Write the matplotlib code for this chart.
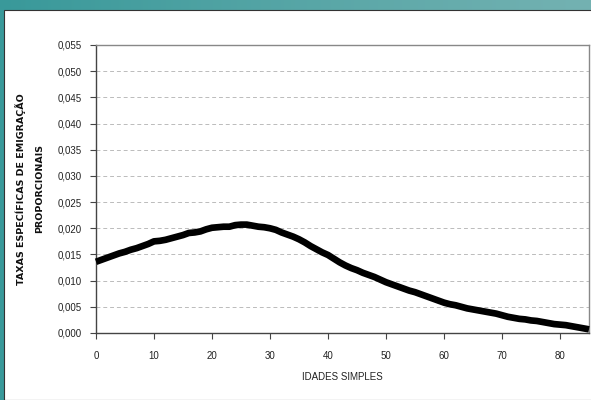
import matplotlib
matplotlib.use("Agg")
import matplotlib.pyplot as plt
import numpy as np
from matplotlib.patches import Rectangle
from matplotlib.colors import LinearSegmentedColormap

ages = list(range(0, 86))
rates = [0.0136, 0.0140, 0.0144, 0.0148, 0.0152, 0.0155, 0.0159, 0.0162, 0.0166, 0.0170,
         0.0175, 0.0176, 0.0178, 0.0181, 0.0184, 0.0187, 0.0191, 0.0192, 0.0194, 0.0198,
         0.0201, 0.0202, 0.0203, 0.0203, 0.0206, 0.0207, 0.0207, 0.0205, 0.0203, 0.0202,
         0.0200, 0.0197, 0.0192, 0.0188, 0.0184, 0.0179, 0.0173, 0.0166, 0.0160, 0.0154,
         0.0149, 0.0142, 0.0135, 0.0129, 0.0124, 0.0120, 0.0115, 0.0111, 0.0107, 0.0102,
         0.0097, 0.0093, 0.0089, 0.0085, 0.0081, 0.0078, 0.0074, 0.0070, 0.0066, 0.0062,
         0.0058, 0.0055, 0.0053, 0.0050, 0.0047, 0.0045, 0.0043, 0.0041, 0.0039, 0.0037,
         0.0034, 0.0031, 0.0029, 0.0027, 0.0026, 0.0024, 0.0023, 0.0021, 0.0019, 0.0017,
         0.0016, 0.0015, 0.0013, 0.0011, 0.0009, 0.0007]
xticks = [0, 10, 20, 30, 40, 50, 60, 70, 80]
xtick_labels = ["0", "10", "20", "30", "40", "50", "60", "70", "80"]
yticks = [0.000, 0.005, 0.010, 0.015, 0.020, 0.025, 0.030, 0.035, 0.040, 0.045, 0.050, 0.055]
ytick_labels = ["0,000", "0,005", "0,010", "0,015", "0,020", "0,025", "0,030", "0,035",
                "0,040", "0,045", "0,050", "0,055"]
xlabel = "IDADES SIMPLES"
ylabel = "TAXAS ESPECÍFICAS DE EMIGRAÇÃO\nPROPORCIONAIS"

plt.rcParams['font.family'] = ['Liberation Sans', 'DejaVu Sans']

fig = plt.figure(figsize=(5.91, 4.00), dpi=100)
fig.patch.set_facecolor("white")

# teal frame: gradient band on top, strip on left
grad = np.linspace(0, 1, 256).reshape(1, -1)
cm = LinearSegmentedColormap.from_list("teal", ["#39999a", "#74b2b2"])
bg = fig.add_axes([0, 0, 1, 1], zorder=-10)
bg.imshow(grad, aspect="auto", cmap=cm, extent=[0, 1, 0, 1])
bg.set_axis_off()
fig.patches.append(Rectangle((4/591, 0), 1, 1 - 10/400, transform=fig.transFigure,
                             facecolor="white", edgecolor="#333333", linewidth=0.8, zorder=-5))

ax = fig.add_axes([96/591, 1 - 333/400, 493/591, 288/400])
ax.set_facecolor("white")
ax.plot(ages, rates, color="black", linewidth=4.8, solid_capstyle="butt", clip_on=False, zorder=3)
ax.set_xlim(0, 85)
ax.set_ylim(0, 0.055)
ax.set_xticks(xticks)
ax.set_xticklabels(xtick_labels)
ax.set_yticks(yticks)
ax.set_yticklabels(ytick_labels)
ax.grid(axis="y", color="#bbbbbb", linestyle=(0, (4, 3)), linewidth=0.7)
ax.set_axisbelow(True)
ax.tick_params(axis="both", labelsize=7, length=4, width=0.8, color="#444444", labelcolor="#222222", pad=6)
ax.tick_params(axis="x", pad=9)
for s in ["left", "bottom"]:
    ax.spines[s].set_color("#444444")
    ax.spines[s].set_linewidth(1.0)
for s in ["top", "right"]:
    ax.spines[s].set_color("#888888")
    ax.spines[s].set_linewidth(1.0)
ax.set_xlabel(xlabel, fontsize=7, color="#222222", labelpad=8)
fig.text(30/591, 1 - 189/400, ylabel, rotation=90, fontsize=6.8, fontweight="bold",
         family="DejaVu Sans", ha="center", va="center", ma="center", linespacing=2.3,
         color="#111111")

fig.savefig("out.png", dpi=100)
